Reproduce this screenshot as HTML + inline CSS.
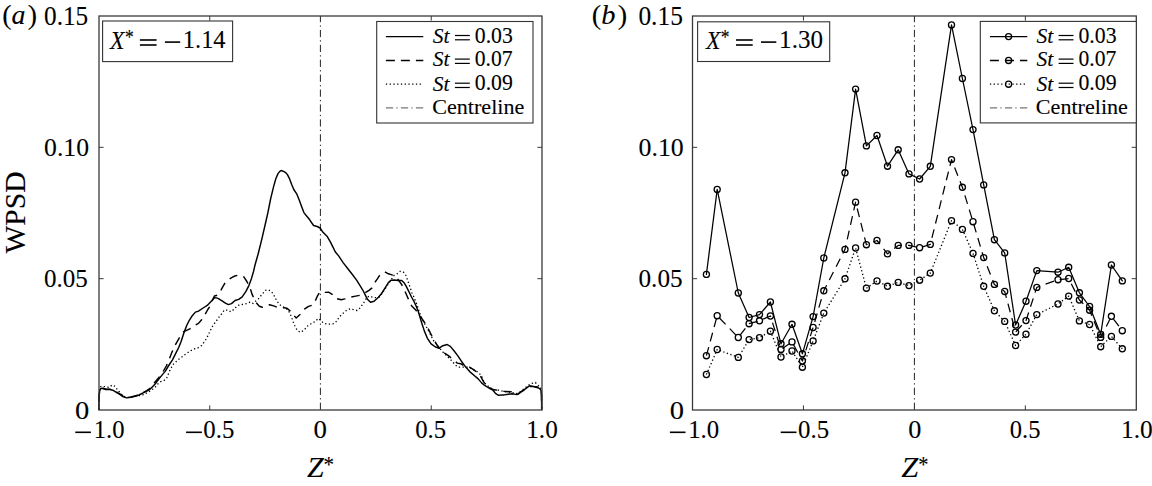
<!DOCTYPE html>
<html><head><meta charset="utf-8"><style>
html,body{margin:0;padding:0;background:#fff;}
body{width:1152px;height:486px;overflow:hidden;}
svg{display:block;}
text{font-family:"Liberation Serif",serif;stroke:#000;stroke-width:0.1px;}
</style></head><body>
<svg width="1152" height="486" viewBox="0 0 1152 486"><rect width="1152" height="486" fill="#fff"/><line x1="320.40" y1="16.0" x2="320.40" y2="410.0" fill="none" stroke="#222" stroke-width="1.0" stroke-dasharray="7.2 3.2 1.3 3.21" stroke-dashoffset="1.0"/><polyline points="98.80,409.50 99.10,395.00 99.80,389.00 100.80,386.60 102.60,386.00 106.10,387.10 109.30,387.40 112.10,385.00 115.20,386.40 117.00,389.20 119.50,392.00 123.30,396.20 126.80,397.50 131.00,397.00 135.00,396.30 139.50,395.50 143.90,394.60 148.90,391.70 152.60,389.20 155.50,386.70 157.90,383.90 160.40,381.80 163.70,380.80 166.80,377.80 170.40,369.10 173.50,364.00 178.70,359.30 184.80,354.70 190.00,351.10 194.10,349.00 197.70,348.00 201.80,345.40 206.70,338.30 209.80,331.60 212.90,325.50 216.50,320.80 219.60,316.20 222.20,313.30 224.30,310.00 227.90,310.20 231.00,311.80 234.00,309.20 236.60,306.60 239.70,304.60 243.30,304.40 246.90,303.60 250.00,302.10 253.10,303.50 255.70,301.10 258.20,299.00 260.30,296.50 262.90,293.40 265.40,290.30 268.50,289.80 271.60,291.80 273.70,294.90 275.20,298.00 277.30,301.60 279.80,304.70 282.40,306.70 286.00,308.30 288.60,310.90 290.60,315.00 292.20,319.10 293.70,323.20 295.50,327.50 297.70,330.80 300.30,332.30 303.90,330.30 308.00,325.60 312.10,323.10 315.20,321.50 318.30,318.40 320.90,320.50 323.40,323.10 327.00,324.10 330.60,324.10 334.20,323.60 337.30,320.50 339.10,317.20 342.20,314.10 346.30,310.50 350.40,308.70 354.00,309.80 357.10,310.50 360.20,307.90 362.30,304.80 364.80,301.20 366.90,297.10 370.00,296.10 373.10,297.60 376.00,297.50 379.20,297.10 382.00,293.50 385.00,289.00 388.00,284.50 391.00,280.00 394.00,275.40 397.10,273.80 400.20,271.30 403.30,271.80 405.90,275.40 407.90,281.00 410.00,287.20 412.00,292.90 414.10,297.50 416.20,302.60 418.20,308.30 419.40,312.40 421.90,318.60 426.20,326.60 429.90,333.40 433.60,340.80 437.90,345.70 441.60,350.70 445.30,354.40 449.00,358.10 452.70,361.80 455.00,364.80 458.40,367.10 461.80,367.10 468.60,367.10 473.10,369.30 478.80,372.70 481.60,376.10 483.30,380.60 485.50,384.00 490.10,388.00 494.60,389.70 499.10,390.20 503.60,391.40 508.00,392.00 512.00,392.50 516.50,393.50 520.50,391.50 524.50,388.50 528.00,385.50 531.30,383.50 535.40,382.50 537.80,385.20 540.30,386.80 541.50,392.00 541.70,409.50" fill="none" stroke="#000" stroke-width="1.3" stroke-dasharray="1.3 2.45" stroke-linejoin="round"/><polyline points="98.80,409.50 99.10,395.50 99.80,390.00 100.90,388.30 103.00,388.20 105.80,389.20 110.00,389.30 112.80,389.90 116.30,391.80 119.80,393.80 123.30,396.40 126.80,397.60 131.00,397.00 134.90,396.00 139.00,394.80 143.10,392.60 147.20,390.40 150.50,388.00 152.50,385.50 154.60,382.40 158.70,377.70 162.70,372.20 166.30,366.00 169.40,358.80 172.00,352.10 175.00,345.40 179.20,338.20 183.80,331.70 186.50,330.30 190.30,328.60 195.40,325.00 198.50,323.40 201.60,319.80 205.20,314.20 207.80,309.50 209.80,306.50 212.00,301.00 214.40,296.00 217.80,295.00 219.50,292.30 221.20,289.70 225.30,282.50 230.40,278.40 234.00,276.30 238.10,275.10 243.80,276.80 246.90,281.50 248.90,285.60 251.00,290.70 252.10,294.40 254.10,298.50 256.20,302.60 259.30,306.20 262.30,307.30 266.00,306.00 269.50,304.70 273.70,305.90 277.30,307.30 280.50,307.60 284.00,307.80 287.00,308.30 290.10,310.90 293.10,314.50 296.20,318.00 300.30,314.30 304.40,309.20 308.50,306.40 312.60,305.10 315.70,299.90 317.80,295.30 319.80,292.00 325.00,292.40 328.60,292.20 332.20,294.30 336.40,298.50 341.20,299.70 344.80,298.90 350.40,297.10 355.60,296.10 359.70,295.40 364.80,293.00 369.00,290.40 372.00,287.90 374.60,282.70 377.20,279.10 379.30,275.80 384.80,271.80 388.40,273.80 392.00,274.90 395.10,276.40 398.10,279.50 401.70,284.60 404.80,290.80 407.90,298.00 410.50,304.20 412.00,306.20 415.70,309.90 420.60,316.70 425.60,324.10 429.30,330.90 433.00,338.30 436.70,344.50 439.20,348.20 443.50,352.50 448.40,355.60 453.00,359.50 457.30,363.10 460.70,363.70 464.00,365.90 468.60,366.50 473.10,369.30 477.60,372.70 480.50,376.10 482.70,380.10 485.00,384.00 488.90,387.40 493.50,389.70 498.00,390.20 502.10,391.30 506.00,391.50 510.70,391.70 513.20,393.00 516.40,393.80 518.50,394.00 520.60,392.10 523.60,390.30 528.00,386.80 532.50,386.40 537.60,387.00 540.80,389.50 541.50,395.00 541.70,409.50" fill="none" stroke="#000" stroke-width="1.45" stroke-dasharray="8.5 6.2" stroke-linejoin="round" stroke-dashoffset="6.4"/><polyline points="98.80,409.50 99.10,395.50 99.80,390.20 100.90,388.50 103.00,388.50 105.80,389.50 110.00,389.50 112.80,390.20 116.30,392.30 119.80,394.40 123.30,396.90 126.80,397.90 131.00,397.20 134.90,396.20 139.00,395.00 143.10,392.90 147.20,390.90 150.50,388.80 153.00,386.30 155.50,383.50 158.40,379.60 162.60,374.40 165.00,371.60 168.40,366.00 172.50,359.80 175.60,353.70 178.70,347.50 181.20,341.30 182.80,336.20 184.40,331.60 186.70,325.50 189.30,320.30 192.30,315.70 195.40,312.10 198.50,311.10 201.60,309.00 204.70,307.00 207.20,305.40 210.30,302.30 213.00,299.50 214.40,297.80 216.50,297.90 218.00,298.40 221.70,300.60 225.40,303.20 228.40,304.60 231.50,303.60 235.10,300.50 238.70,299.40 242.20,296.90 245.80,291.70 248.90,285.60 251.50,278.40 253.60,271.20 255.00,265.00 258.00,254.50 262.00,238.40 266.00,221.00 267.90,212.60 269.60,204.00 270.80,198.10 273.60,186.60 275.80,178.70 278.00,173.60 279.60,171.60 281.10,170.50 283.60,171.40 285.60,172.60 287.30,174.40 289.50,178.70 291.70,184.50 293.80,189.50 296.70,193.80 299.60,201.00 301.70,206.80 303.90,212.60 306.80,216.20 309.70,219.80 311.50,222.50 313.60,225.50 317.20,226.50 320.10,228.00 323.00,232.30 327.30,236.60 330.20,241.70 333.10,247.40 335.20,251.70 338.80,256.10 343.10,262.60 347.50,268.30 351.80,273.80 356.60,280.10 360.20,285.80 363.30,291.00 365.30,295.10 367.40,299.20 370.50,302.30 374.10,301.30 378.40,297.30 381.60,293.50 384.50,288.80 388.40,282.60 391.00,280.30 394.50,280.00 398.10,280.50 401.70,280.50 404.30,283.10 406.40,286.70 409.00,291.80 411.50,297.00 414.10,301.60 416.20,306.20 418.20,311.20 420.00,317.30 421.90,323.50 424.30,330.90 427.40,338.30 431.10,343.90 435.50,347.00 439.20,348.20 442.90,345.70 447.20,344.50 450.30,346.40 454.00,350.70 457.70,355.60 461.40,361.20 465.70,367.10 469.70,371.60 474.20,375.50 478.20,378.90 481.60,382.90 485.00,385.70 488.90,388.00 492.90,390.20 495.70,393.60 498.60,395.30 502.50,394.90 504.10,394.90 508.20,394.20 512.30,393.80 516.90,394.60 520.60,392.10 524.70,389.30 528.00,386.80 529.60,385.80 532.90,386.40 536.20,387.20 538.70,388.00 540.70,389.70 541.50,393.40 541.70,409.50" fill="none" stroke="#000" stroke-width="1.45" stroke-linejoin="round" stroke-linecap="round"/><line x1="914.40" y1="16.0" x2="914.40" y2="410.0" fill="none" stroke="#222" stroke-width="1.0" stroke-dasharray="7.2 3.2 1.3 3.21" stroke-dashoffset="1.0"/><polyline points="706.40,374.50 717.20,349.50 738.30,357.40 749.10,339.60 759.50,337.70 770.40,331.20 781.00,357.00 792.00,351.00 802.40,367.20 813.10,340.90 823.80,313.10 845.00,278.80 855.60,248.00 866.40,288.20 877.00,281.00 887.50,286.30 898.20,282.40 909.00,285.60 919.60,280.20 930.30,273.10 951.50,220.70 962.40,229.40 973.00,253.40 983.70,286.30 994.40,310.80 1004.70,321.40 1015.60,345.50 1026.00,334.20 1036.80,314.60 1058.00,304.00 1068.70,296.10 1079.40,320.90 1089.60,324.50 1100.70,346.70 1111.40,336.40 1122.30,348.80" fill="none" stroke="#000" stroke-width="1.3" stroke-dasharray="1.3 2.45" stroke-linejoin="round"/><polyline points="706.40,355.70 717.20,315.70 738.30,337.50 749.10,323.70 759.50,320.80 770.40,316.00 781.00,349.40 792.00,341.90 802.40,361.00 813.10,327.50 823.80,290.80 845.00,249.40 855.60,202.20 866.40,244.70 877.00,240.50 887.50,253.90 898.20,245.40 909.00,245.40 919.60,247.70 930.30,244.40 951.50,159.60 962.40,187.30 973.00,221.70 983.70,257.60 994.40,284.40 1004.70,291.50 1015.60,332.10 1026.00,320.60 1036.80,287.40 1058.00,279.70 1068.70,278.50 1079.40,300.00 1089.60,310.20 1100.70,337.40 1111.40,316.30 1122.30,330.70" fill="none" stroke="#000" stroke-width="1.25" stroke-dasharray="8.9 5.97" stroke-linejoin="round"/><polyline points="706.40,274.40 717.20,189.40 738.30,293.00 749.10,317.50 759.50,314.60 770.40,302.00 781.00,343.80 792.00,324.30 802.40,353.80 813.10,316.60 823.80,258.00 845.00,172.80 855.60,89.10 866.40,145.90 877.00,135.50 887.50,166.20 898.20,149.80 909.00,173.90 919.60,179.00 930.30,166.30 951.50,24.90 962.40,78.50 973.00,129.60 983.70,184.90 994.40,239.70 1004.70,252.90 1015.60,325.00 1026.00,301.20 1036.80,270.60 1058.00,272.20 1068.70,267.30 1079.40,292.80 1089.60,306.50 1100.70,334.40 1111.40,265.00 1122.30,280.90" fill="none" stroke="#000" stroke-width="1.25" stroke-linejoin="round" stroke-linecap="round"/><circle cx="706.40" cy="274.40" r="3.05" fill="none" stroke="#000" stroke-width="1.3"/><circle cx="717.20" cy="189.40" r="3.05" fill="none" stroke="#000" stroke-width="1.3"/><circle cx="738.30" cy="293.00" r="3.05" fill="none" stroke="#000" stroke-width="1.3"/><circle cx="749.10" cy="317.50" r="3.05" fill="none" stroke="#000" stroke-width="1.3"/><circle cx="759.50" cy="314.60" r="3.05" fill="none" stroke="#000" stroke-width="1.3"/><circle cx="770.40" cy="302.00" r="3.05" fill="none" stroke="#000" stroke-width="1.3"/><circle cx="781.00" cy="343.80" r="3.05" fill="none" stroke="#000" stroke-width="1.3"/><circle cx="792.00" cy="324.30" r="3.05" fill="none" stroke="#000" stroke-width="1.3"/><circle cx="802.40" cy="353.80" r="3.05" fill="none" stroke="#000" stroke-width="1.3"/><circle cx="813.10" cy="316.60" r="3.05" fill="none" stroke="#000" stroke-width="1.3"/><circle cx="823.80" cy="258.00" r="3.05" fill="none" stroke="#000" stroke-width="1.3"/><circle cx="845.00" cy="172.80" r="3.05" fill="none" stroke="#000" stroke-width="1.3"/><circle cx="855.60" cy="89.10" r="3.05" fill="none" stroke="#000" stroke-width="1.3"/><circle cx="866.40" cy="145.90" r="3.05" fill="none" stroke="#000" stroke-width="1.3"/><circle cx="877.00" cy="135.50" r="3.05" fill="none" stroke="#000" stroke-width="1.3"/><circle cx="887.50" cy="166.20" r="3.05" fill="none" stroke="#000" stroke-width="1.3"/><circle cx="898.20" cy="149.80" r="3.05" fill="none" stroke="#000" stroke-width="1.3"/><circle cx="909.00" cy="173.90" r="3.05" fill="none" stroke="#000" stroke-width="1.3"/><circle cx="919.60" cy="179.00" r="3.05" fill="none" stroke="#000" stroke-width="1.3"/><circle cx="930.30" cy="166.30" r="3.05" fill="none" stroke="#000" stroke-width="1.3"/><circle cx="951.50" cy="24.90" r="3.05" fill="none" stroke="#000" stroke-width="1.3"/><circle cx="962.40" cy="78.50" r="3.05" fill="none" stroke="#000" stroke-width="1.3"/><circle cx="973.00" cy="129.60" r="3.05" fill="none" stroke="#000" stroke-width="1.3"/><circle cx="983.70" cy="184.90" r="3.05" fill="none" stroke="#000" stroke-width="1.3"/><circle cx="994.40" cy="239.70" r="3.05" fill="none" stroke="#000" stroke-width="1.3"/><circle cx="1004.70" cy="252.90" r="3.05" fill="none" stroke="#000" stroke-width="1.3"/><circle cx="1015.60" cy="325.00" r="3.05" fill="none" stroke="#000" stroke-width="1.3"/><circle cx="1026.00" cy="301.20" r="3.05" fill="none" stroke="#000" stroke-width="1.3"/><circle cx="1036.80" cy="270.60" r="3.05" fill="none" stroke="#000" stroke-width="1.3"/><circle cx="1058.00" cy="272.20" r="3.05" fill="none" stroke="#000" stroke-width="1.3"/><circle cx="1068.70" cy="267.30" r="3.05" fill="none" stroke="#000" stroke-width="1.3"/><circle cx="1079.40" cy="292.80" r="3.05" fill="none" stroke="#000" stroke-width="1.3"/><circle cx="1089.60" cy="306.50" r="3.05" fill="none" stroke="#000" stroke-width="1.3"/><circle cx="1100.70" cy="334.40" r="3.05" fill="none" stroke="#000" stroke-width="1.3"/><circle cx="1111.40" cy="265.00" r="3.05" fill="none" stroke="#000" stroke-width="1.3"/><circle cx="1122.30" cy="280.90" r="3.05" fill="none" stroke="#000" stroke-width="1.3"/><circle cx="706.40" cy="355.70" r="3.05" fill="none" stroke="#000" stroke-width="1.3"/><circle cx="717.20" cy="315.70" r="3.05" fill="none" stroke="#000" stroke-width="1.3"/><circle cx="738.30" cy="337.50" r="3.05" fill="none" stroke="#000" stroke-width="1.3"/><circle cx="749.10" cy="323.70" r="3.05" fill="none" stroke="#000" stroke-width="1.3"/><circle cx="759.50" cy="320.80" r="3.05" fill="none" stroke="#000" stroke-width="1.3"/><circle cx="770.40" cy="316.00" r="3.05" fill="none" stroke="#000" stroke-width="1.3"/><circle cx="781.00" cy="349.40" r="3.05" fill="none" stroke="#000" stroke-width="1.3"/><circle cx="792.00" cy="341.90" r="3.05" fill="none" stroke="#000" stroke-width="1.3"/><circle cx="802.40" cy="361.00" r="3.05" fill="none" stroke="#000" stroke-width="1.3"/><circle cx="813.10" cy="327.50" r="3.05" fill="none" stroke="#000" stroke-width="1.3"/><circle cx="823.80" cy="290.80" r="3.05" fill="none" stroke="#000" stroke-width="1.3"/><circle cx="845.00" cy="249.40" r="3.05" fill="none" stroke="#000" stroke-width="1.3"/><circle cx="855.60" cy="202.20" r="3.05" fill="none" stroke="#000" stroke-width="1.3"/><circle cx="866.40" cy="244.70" r="3.05" fill="none" stroke="#000" stroke-width="1.3"/><circle cx="877.00" cy="240.50" r="3.05" fill="none" stroke="#000" stroke-width="1.3"/><circle cx="887.50" cy="253.90" r="3.05" fill="none" stroke="#000" stroke-width="1.3"/><circle cx="898.20" cy="245.40" r="3.05" fill="none" stroke="#000" stroke-width="1.3"/><circle cx="909.00" cy="245.40" r="3.05" fill="none" stroke="#000" stroke-width="1.3"/><circle cx="919.60" cy="247.70" r="3.05" fill="none" stroke="#000" stroke-width="1.3"/><circle cx="930.30" cy="244.40" r="3.05" fill="none" stroke="#000" stroke-width="1.3"/><circle cx="951.50" cy="159.60" r="3.05" fill="none" stroke="#000" stroke-width="1.3"/><circle cx="962.40" cy="187.30" r="3.05" fill="none" stroke="#000" stroke-width="1.3"/><circle cx="973.00" cy="221.70" r="3.05" fill="none" stroke="#000" stroke-width="1.3"/><circle cx="983.70" cy="257.60" r="3.05" fill="none" stroke="#000" stroke-width="1.3"/><circle cx="994.40" cy="284.40" r="3.05" fill="none" stroke="#000" stroke-width="1.3"/><circle cx="1004.70" cy="291.50" r="3.05" fill="none" stroke="#000" stroke-width="1.3"/><circle cx="1015.60" cy="332.10" r="3.05" fill="none" stroke="#000" stroke-width="1.3"/><circle cx="1026.00" cy="320.60" r="3.05" fill="none" stroke="#000" stroke-width="1.3"/><circle cx="1036.80" cy="287.40" r="3.05" fill="none" stroke="#000" stroke-width="1.3"/><circle cx="1058.00" cy="279.70" r="3.05" fill="none" stroke="#000" stroke-width="1.3"/><circle cx="1068.70" cy="278.50" r="3.05" fill="none" stroke="#000" stroke-width="1.3"/><circle cx="1079.40" cy="300.00" r="3.05" fill="none" stroke="#000" stroke-width="1.3"/><circle cx="1089.60" cy="310.20" r="3.05" fill="none" stroke="#000" stroke-width="1.3"/><circle cx="1100.70" cy="337.40" r="3.05" fill="none" stroke="#000" stroke-width="1.3"/><circle cx="1111.40" cy="316.30" r="3.05" fill="none" stroke="#000" stroke-width="1.3"/><circle cx="1122.30" cy="330.70" r="3.05" fill="none" stroke="#000" stroke-width="1.3"/><circle cx="706.40" cy="374.50" r="3.05" fill="none" stroke="#000" stroke-width="1.3"/><circle cx="717.20" cy="349.50" r="3.05" fill="none" stroke="#000" stroke-width="1.3"/><circle cx="738.30" cy="357.40" r="3.05" fill="none" stroke="#000" stroke-width="1.3"/><circle cx="749.10" cy="339.60" r="3.05" fill="none" stroke="#000" stroke-width="1.3"/><circle cx="759.50" cy="337.70" r="3.05" fill="none" stroke="#000" stroke-width="1.3"/><circle cx="770.40" cy="331.20" r="3.05" fill="none" stroke="#000" stroke-width="1.3"/><circle cx="781.00" cy="357.00" r="3.05" fill="none" stroke="#000" stroke-width="1.3"/><circle cx="792.00" cy="351.00" r="3.05" fill="none" stroke="#000" stroke-width="1.3"/><circle cx="802.40" cy="367.20" r="3.05" fill="none" stroke="#000" stroke-width="1.3"/><circle cx="813.10" cy="340.90" r="3.05" fill="none" stroke="#000" stroke-width="1.3"/><circle cx="823.80" cy="313.10" r="3.05" fill="none" stroke="#000" stroke-width="1.3"/><circle cx="845.00" cy="278.80" r="3.05" fill="none" stroke="#000" stroke-width="1.3"/><circle cx="855.60" cy="248.00" r="3.05" fill="none" stroke="#000" stroke-width="1.3"/><circle cx="866.40" cy="288.20" r="3.05" fill="none" stroke="#000" stroke-width="1.3"/><circle cx="877.00" cy="281.00" r="3.05" fill="none" stroke="#000" stroke-width="1.3"/><circle cx="887.50" cy="286.30" r="3.05" fill="none" stroke="#000" stroke-width="1.3"/><circle cx="898.20" cy="282.40" r="3.05" fill="none" stroke="#000" stroke-width="1.3"/><circle cx="909.00" cy="285.60" r="3.05" fill="none" stroke="#000" stroke-width="1.3"/><circle cx="919.60" cy="280.20" r="3.05" fill="none" stroke="#000" stroke-width="1.3"/><circle cx="930.30" cy="273.10" r="3.05" fill="none" stroke="#000" stroke-width="1.3"/><circle cx="951.50" cy="220.70" r="3.05" fill="none" stroke="#000" stroke-width="1.3"/><circle cx="962.40" cy="229.40" r="3.05" fill="none" stroke="#000" stroke-width="1.3"/><circle cx="973.00" cy="253.40" r="3.05" fill="none" stroke="#000" stroke-width="1.3"/><circle cx="983.70" cy="286.30" r="3.05" fill="none" stroke="#000" stroke-width="1.3"/><circle cx="994.40" cy="310.80" r="3.05" fill="none" stroke="#000" stroke-width="1.3"/><circle cx="1004.70" cy="321.40" r="3.05" fill="none" stroke="#000" stroke-width="1.3"/><circle cx="1015.60" cy="345.50" r="3.05" fill="none" stroke="#000" stroke-width="1.3"/><circle cx="1026.00" cy="334.20" r="3.05" fill="none" stroke="#000" stroke-width="1.3"/><circle cx="1036.80" cy="314.60" r="3.05" fill="none" stroke="#000" stroke-width="1.3"/><circle cx="1058.00" cy="304.00" r="3.05" fill="none" stroke="#000" stroke-width="1.3"/><circle cx="1068.70" cy="296.10" r="3.05" fill="none" stroke="#000" stroke-width="1.3"/><circle cx="1079.40" cy="320.90" r="3.05" fill="none" stroke="#000" stroke-width="1.3"/><circle cx="1089.60" cy="324.50" r="3.05" fill="none" stroke="#000" stroke-width="1.3"/><circle cx="1100.70" cy="346.70" r="3.05" fill="none" stroke="#000" stroke-width="1.3"/><circle cx="1111.40" cy="336.40" r="3.05" fill="none" stroke="#000" stroke-width="1.3"/><circle cx="1122.30" cy="348.80" r="3.05" fill="none" stroke="#000" stroke-width="1.3"/><line x1="209.75" y1="410.0" x2="209.75" y2="405.4" stroke="#222" stroke-width="0.9"/><line x1="209.75" y1="16.0" x2="209.75" y2="20.6" stroke="#222" stroke-width="0.9"/><line x1="431.25" y1="410.0" x2="431.25" y2="405.4" stroke="#222" stroke-width="0.9"/><line x1="431.25" y1="16.0" x2="431.25" y2="20.6" stroke="#222" stroke-width="0.9"/><line x1="99.0" y1="278.67" x2="103.6" y2="278.67" stroke="#222" stroke-width="0.9"/><line x1="542.0" y1="278.67" x2="537.4" y2="278.67" stroke="#222" stroke-width="0.9"/><line x1="99.0" y1="147.33" x2="103.6" y2="147.33" stroke="#222" stroke-width="0.9"/><line x1="542.0" y1="147.33" x2="537.4" y2="147.33" stroke="#222" stroke-width="0.9"/><rect x="99.0" y="16.0" width="443.00" height="394.00" fill="none" stroke="#3a3a3a" stroke-width="1.3"/><line x1="803.45" y1="410.0" x2="803.45" y2="405.4" stroke="#222" stroke-width="0.9"/><line x1="803.45" y1="16.0" x2="803.45" y2="20.6" stroke="#222" stroke-width="0.9"/><line x1="1025.35" y1="410.0" x2="1025.35" y2="405.4" stroke="#222" stroke-width="0.9"/><line x1="1025.35" y1="16.0" x2="1025.35" y2="20.6" stroke="#222" stroke-width="0.9"/><line x1="692.5" y1="278.67" x2="697.1" y2="278.67" stroke="#222" stroke-width="0.9"/><line x1="1136.3" y1="278.67" x2="1131.7" y2="278.67" stroke="#222" stroke-width="0.9"/><line x1="692.5" y1="147.33" x2="697.1" y2="147.33" stroke="#222" stroke-width="0.9"/><line x1="1136.3" y1="147.33" x2="1131.7" y2="147.33" stroke="#222" stroke-width="0.9"/><rect x="692.5" y="16.0" width="443.80" height="394.00" fill="none" stroke="#3a3a3a" stroke-width="1.3"/><rect x="102.6" y="21.0" width="130.00" height="40.60" fill="#fff" stroke="#333" stroke-width="1.1"/><g transform="matrix(0.92754,0,0,1.00299,8.794,-0.145)"><text x="109.20" y="48.60" font-size="25.5" text-anchor="start" font-style="italic" font-family="Liberation Serif, serif" >X</text></g><g transform="matrix(1.00000,0,0,1.13846,-0.800,-3.523)"><text x="125.70" y="42.00" font-size="17.5" text-anchor="start" font-family="Liberation Serif, serif" >*</text></g><rect x="139.90" y="39.20" width="16.70" height="1.60" fill="#000"/><rect x="139.90" y="44.20" width="16.70" height="1.60" fill="#000"/><rect x="164.90" y="41.30" width="15.30" height="1.60" fill="#000"/><g transform="matrix(0.95714,0,0,0.99429,5.775,0.080)"><text x="185.00" y="48.60" font-size="25.5" text-anchor="start" font-family="Liberation Serif, serif" >1.14</text></g><rect x="697.6" y="21.8" width="132.10" height="39.70" fill="#fff" stroke="#333" stroke-width="1.1"/><g transform="matrix(0.92754,0,0,1.00299,51.851,-0.145)"><text x="705.30" y="48.60" font-size="25.5" text-anchor="start" font-style="italic" font-family="Liberation Serif, serif" >X</text></g><g transform="matrix(1.00000,0,0,1.13846,-0.950,-3.523)"><text x="721.80" y="42.00" font-size="17.5" text-anchor="start" font-family="Liberation Serif, serif" >*</text></g><rect x="736.00" y="39.20" width="16.70" height="1.60" fill="#000"/><rect x="736.00" y="44.20" width="16.70" height="1.60" fill="#000"/><rect x="761.00" y="41.30" width="15.30" height="1.60" fill="#000"/><g transform="matrix(0.98313,0,0,0.98857,11.016,0.160)"><text x="781.30" y="48.60" font-size="25.5" text-anchor="start" font-family="Liberation Serif, serif" >1.30</text></g><rect x="376.7" y="21.5" width="156.30" height="101.50" fill="#fff" stroke="#333" stroke-width="1.1"/><line x1="385.90" y1="36.6" x2="423.30" y2="36.6" fill="none" stroke="#000" stroke-width="1.45" stroke-linejoin="round" /><g transform="matrix(0.95775,0,0,0.97705,18.196,1.231)"><text x="432.90" y="42.60" font-size="22.5" text-anchor="start" font-style="italic" font-family="Liberation Serif, serif" >St</text></g><rect x="454.90" y="34.90" width="14.90" height="1.20" fill="#000"/><rect x="454.90" y="39.20" width="14.90" height="1.20" fill="#000"/><g transform="matrix(0.96689,0,0,1.03607,15.362,-1.292)"><text x="475.20" y="42.60" font-size="22.5" text-anchor="start" font-family="Liberation Serif, serif" >0.03</text></g><line x1="385.90" y1="60.45" x2="423.30" y2="60.45" fill="none" stroke="#000" stroke-width="1.45" stroke-dasharray="9.0 6.0" stroke-linejoin="round"/><g transform="matrix(0.95775,0,0,0.97705,18.196,1.626)"><text x="432.90" y="66.20" font-size="22.5" text-anchor="start" font-style="italic" font-family="Liberation Serif, serif" >St</text></g><rect x="454.90" y="58.50" width="14.90" height="1.20" fill="#000"/><rect x="454.90" y="62.80" width="14.90" height="1.20" fill="#000"/><g transform="matrix(0.96053,0,0,1.03607,18.389,-2.298)"><text x="475.20" y="66.20" font-size="22.5" text-anchor="start" font-family="Liberation Serif, serif" >0.07</text></g><line x1="385.90" y1="84.2" x2="423.30" y2="84.2" fill="none" stroke="#000" stroke-width="1.3" stroke-dasharray="1.3 2.45" stroke-linejoin="round"/><g transform="matrix(0.95775,0,0,0.97705,18.196,2.277)"><text x="432.90" y="90.30" font-size="22.5" text-anchor="start" font-style="italic" font-family="Liberation Serif, serif" >St</text></g><rect x="454.90" y="82.60" width="14.90" height="1.20" fill="#000"/><rect x="454.90" y="86.90" width="14.90" height="1.20" fill="#000"/><g transform="matrix(0.96689,0,0,1.03607,15.362,-3.064)"><text x="475.20" y="90.30" font-size="22.5" text-anchor="start" font-family="Liberation Serif, serif" >0.09</text></g><line x1="385.90" y1="107.9" x2="423.30" y2="107.9" fill="none" stroke="#777" stroke-width="1.4" stroke-dasharray="7.3 3.1 1.3 3.3"/><g transform="matrix(0.98261,0,0,0.97500,6.648,3.006)"><text x="433.10" y="114.00" font-size="22.5" text-anchor="start" font-family="Liberation Serif, serif" >Centreline</text></g><rect x="980.3" y="21.4" width="156.00" height="101.50" fill="#fff" stroke="#333" stroke-width="1.1"/><line x1="989.90" y1="36.6" x2="1027.30" y2="36.6" fill="none" stroke="#000" stroke-width="1.45" stroke-linejoin="round" /><circle cx="1008.60" cy="36.6" r="3.05" fill="none" stroke="#000" stroke-width="1.3"/><g transform="matrix(0.95775,0,0,0.97705,43.656,1.231)"><text x="1036.60" y="42.60" font-size="22.5" text-anchor="start" font-style="italic" font-family="Liberation Serif, serif" >St</text></g><rect x="1058.60" y="34.90" width="14.90" height="1.20" fill="#000"/><rect x="1058.60" y="39.20" width="14.90" height="1.20" fill="#000"/><g transform="matrix(0.96689,0,0,1.01935,35.303,-0.832)"><text x="1078.90" y="42.60" font-size="22.5" text-anchor="start" font-family="Liberation Serif, serif" >0.03</text></g><line x1="989.90" y1="60.45" x2="1027.30" y2="60.45" fill="none" stroke="#000" stroke-width="1.45" stroke-dasharray="9.0 6.0" stroke-linejoin="round"/><circle cx="1008.60" cy="60.45" r="3.05" fill="none" stroke="#000" stroke-width="1.3"/><g transform="matrix(0.95775,0,0,0.97705,43.656,1.626)"><text x="1036.60" y="66.20" font-size="22.5" text-anchor="start" font-style="italic" font-family="Liberation Serif, serif" >St</text></g><rect x="1058.60" y="58.50" width="14.90" height="1.20" fill="#000"/><rect x="1058.60" y="62.80" width="14.90" height="1.20" fill="#000"/><g transform="matrix(0.96053,0,0,1.01935,42.172,-1.442)"><text x="1078.90" y="66.20" font-size="22.5" text-anchor="start" font-family="Liberation Serif, serif" >0.07</text></g><line x1="989.90" y1="84.2" x2="1027.30" y2="84.2" fill="none" stroke="#000" stroke-width="1.3" stroke-dasharray="1.3 2.45" stroke-linejoin="round"/><circle cx="1008.60" cy="84.2" r="3.05" fill="none" stroke="#000" stroke-width="1.3"/><g transform="matrix(0.95775,0,0,0.97705,43.656,2.277)"><text x="1036.60" y="90.30" font-size="22.5" text-anchor="start" font-style="italic" font-family="Liberation Serif, serif" >St</text></g><rect x="1058.60" y="82.60" width="14.90" height="1.20" fill="#000"/><rect x="1058.60" y="86.90" width="14.90" height="1.20" fill="#000"/><g transform="matrix(0.96689,0,0,1.01935,35.303,-1.806)"><text x="1078.90" y="90.30" font-size="22.5" text-anchor="start" font-family="Liberation Serif, serif" >0.09</text></g><line x1="989.90" y1="107.9" x2="1027.30" y2="107.9" fill="none" stroke="#777" stroke-width="1.4" stroke-dasharray="7.3 3.1 1.3 3.3"/><g transform="matrix(0.98261,0,0,0.97500,17.098,3.006)"><text x="1036.80" y="114.00" font-size="22.5" text-anchor="start" font-family="Liberation Serif, serif" >Centreline</text></g><g transform="matrix(0.99070,0,0,1.04000,0.219,-1.320)"><text x="88.80" y="24.90" font-size="25.5" text-anchor="end" font-family="Liberation Serif, serif" >0.15</text></g><g transform="matrix(1.00698,0,0,1.01714,-0.414,-3.037)"><text x="88.80" y="156.23" font-size="25.5" text-anchor="end" font-family="Liberation Serif, serif" >0.10</text></g><g transform="matrix(0.98140,0,0,1.01714,0.737,-5.237)"><text x="88.80" y="287.57" font-size="25.5" text-anchor="end" font-family="Liberation Serif, serif" >0.05</text></g><g transform="matrix(1.11818,0,0,1.02029,-10.100,-8.757)"><text x="88.80" y="418.90" font-size="25.5" text-anchor="end" font-family="Liberation Serif, serif" >0</text></g><rect x="75.30" y="431.50" width="15.60" height="1.60" fill="#000"/><g transform="matrix(0.96552,0,0,0.99429,1.321,1.911)"><text x="95.70" y="439.00" font-size="25.5" text-anchor="start" font-family="Liberation Serif, serif" >1.0</text></g><rect x="186.10" y="431.50" width="15.80" height="1.60" fill="#000"/><g transform="matrix(0.97333,0,0,0.99429,4.523,1.911)"><text x="204.30" y="439.00" font-size="25.5" text-anchor="start" font-family="Liberation Serif, serif" >0.5</text></g><g transform="matrix(1.05116,0,0,1.02029,-16.416,-9.462)"><text x="320.35" y="439.00" font-size="25.5" text-anchor="middle" font-family="Liberation Serif, serif" >0</text></g><g transform="matrix(0.97000,0,0,0.99429,12.965,1.911)"><text x="430.55" y="439.00" font-size="25.5" text-anchor="middle" font-family="Liberation Serif, serif" >0.5</text></g><g transform="matrix(0.98783,0,0,0.99429,5.940,1.911)"><text x="542.70" y="439.00" font-size="25.5" text-anchor="middle" font-family="Liberation Serif, serif" >1.0</text></g><g transform="matrix(0.97910,0,0,0.99029,0.018,0.286)"><text x="2.20" y="23.60" font-size="28.5" text-anchor="start" font-family="Liberation Serif, serif" >(<tspan font-style="italic">a</tspan><tspan dx="2.5">)</tspan></text></g><g transform="matrix(1.04000,0,0,1.02105,-12.340,-10.053)"><text x="307.00" y="477.50" font-size="29" text-anchor="start" font-style="italic" font-family="Liberation Serif, serif" >Z</text></g><g transform="matrix(1.05000,0,0,1.13333,-17.275,-61.583)"><text x="324.50" y="471.00" font-size="20" text-anchor="start" font-family="Liberation Serif, serif" >*</text></g><g transform="matrix(0.99649,0,0,1.04000,1.895,-1.320)"><text x="683.40" y="24.90" font-size="25.5" text-anchor="end" font-family="Liberation Serif, serif" >0.15</text></g><g transform="matrix(1.01287,0,0,1.01714,-8.481,-3.037)"><text x="683.40" y="156.23" font-size="25.5" text-anchor="end" font-family="Liberation Serif, serif" >0.10</text></g><g transform="matrix(0.98713,0,0,1.01714,7.981,-5.237)"><text x="683.40" y="287.57" font-size="25.5" text-anchor="end" font-family="Liberation Serif, serif" >0.05</text></g><g transform="matrix(1.11818,0,0,1.02029,-80.259,-8.757)"><text x="683.40" y="418.90" font-size="25.5" text-anchor="end" font-family="Liberation Serif, serif" >0</text></g><rect x="669.90" y="431.50" width="15.60" height="1.60" fill="#000"/><g transform="matrix(0.97391,0,0,0.99429,15.865,1.911)"><text x="690.30" y="439.00" font-size="25.5" text-anchor="start" font-family="Liberation Serif, serif" >1.0</text></g><rect x="780.70" y="431.50" width="15.80" height="1.60" fill="#000"/><g transform="matrix(0.97333,0,0,0.99429,20.477,1.911)"><text x="798.90" y="439.00" font-size="25.5" text-anchor="start" font-family="Liberation Serif, serif" >0.5</text></g><g transform="matrix(1.02727,0,0,1.02029,-25.005,-9.462)"><text x="914.95" y="439.00" font-size="25.5" text-anchor="middle" font-family="Liberation Serif, serif" >0</text></g><g transform="matrix(0.96198,0,0,0.99429,38.997,1.911)"><text x="1025.15" y="439.00" font-size="25.5" text-anchor="middle" font-family="Liberation Serif, serif" >0.5</text></g><g transform="matrix(0.99649,0,0,0.99429,3.542,1.911)"><text x="1137.30" y="439.00" font-size="25.5" text-anchor="middle" font-family="Liberation Serif, serif" >1.0</text></g><g transform="matrix(0.99549,0,0,0.99029,2.426,0.286)"><text x="592.00" y="23.60" font-size="28.5" text-anchor="start" font-family="Liberation Serif, serif" >(<tspan font-style="italic">b</tspan><tspan dx="2.5">)</tspan></text></g><g transform="matrix(1.05625,0,0,1.02105,-50.938,-10.053)"><text x="901.60" y="477.50" font-size="29" text-anchor="start" font-style="italic" font-family="Liberation Serif, serif" >Z</text></g><g transform="matrix(1.01818,0,0,1.13333,-17.627,-61.583)"><text x="919.10" y="471.00" font-size="20" text-anchor="start" font-family="Liberation Serif, serif" >*</text></g><g transform="matrix(1.00253,0,0,1.01818,-0.667,-4.309)"><text x="26.00" y="213.00" font-size="29" text-anchor="middle" font-family="Liberation Serif, serif" transform="rotate(-90 26 213)">WPSD</text></g></svg>
</body></html>
